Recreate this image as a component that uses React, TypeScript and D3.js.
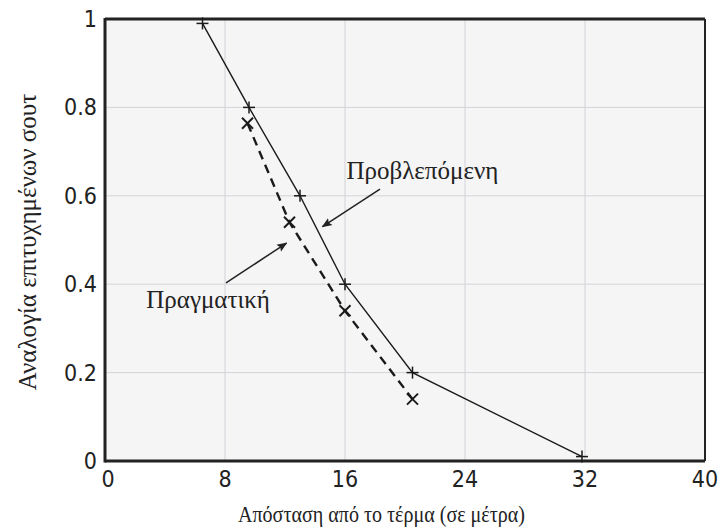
import React from 'react';
import * as d3 from 'd3';

// values
const predictedX = [6.5, 9.6, 13, 16, 20.5, 31.8];
const predictedY = [0.99, 0.8, 0.6, 0.4, 0.2, 0.01];
const actualX = [9.5, 12.3, 16, 20.5];
const actualY = [0.764, 0.54, 0.34, 0.14];
const xTicks = [0, 8, 16, 24, 32, 40];
const yTicks = [0, 0.2, 0.4, 0.6, 0.8, 1];

const xTitle = 'Απόσταση από το τέρμα (σε μέτρα)';
const yTitle = 'Αναλογία επιτυχημένων σουτ';
const predictedLabel = 'Προβλεπόμενη';
const actualLabel = 'Πραγματική';

const W = 720;
const H = 530;
const margin = { left: 105, right: 15, top: 19, bottom: 69 };

const serif = '"Liberation Serif", "DejaVu Serif", serif';
const narrow = '"Liberation Sans Narrow", "DejaVu Sans Condensed", "Liberation Sans", sans-serif';

export default function App() {
  const x = d3.scaleLinear().domain([0, 40]).range([margin.left, W - margin.right]);
  const y = d3.scaleLinear().domain([0, 1]).range([H - margin.bottom, margin.top]);

  const predicted = predictedX.map((v, i) => [v, predictedY[i]] as [number, number]);
  const actual = actualX.map((v, i) => [v, actualY[i]] as [number, number]);

  const line = d3.line<[number, number]>()
    .x(d => x(d[0]))
    .y(d => y(d[1]));

  const x0 = x(0);
  const x1 = x(40);
  const y0 = y(0);
  const y1 = y(1);

  // annotation arrows, in data units
  const predArrow = { from: [18.33, 0.615], to: [14.5, 0.53] };
  const actArrow = { from: [8.07, 0.403], to: [12.1, 0.493] };

  return (
    <svg width={W} height={H} style={{ position: 'absolute', left: 0, top: 0 }}>
      <defs>
        <marker id="arrow" viewBox="0 0 10 10" refX="9" refY="5"
          markerWidth="7" markerHeight="7" orient="auto">
          <path d="M0,1 L10,5 L0,9 L2,5 z" fill="#222" />
        </marker>
      </defs>
      <rect x={0} y={0} width={W} height={H} fill="#fff" />
      <rect x={x0} y={y1} width={x1 - x0} height={y0 - y1} fill="#f5f5f5" />

      {/* grid */}
      {xTicks.slice(1, -1).map(t => (
        <line key={'gx' + t} x1={x(t)} x2={x(t)} y1={y1} y2={y0} stroke="#d3d3da" strokeWidth={1} />
      ))}
      {yTicks.slice(1, -1).map(t => (
        <line key={'gy' + t} x1={x0} x2={x1} y1={y(t)} y2={y(t)} stroke="#d3d3da" strokeWidth={1} />
      ))}

      {/* frame */}
      <line x1={x0} x2={x0} y1={y1 - 1} y2={y0 + 1.5} stroke="#222" strokeWidth={3} />
      <line x1={x0} x2={x1} y1={y0} y2={y0} stroke="#222" strokeWidth={3} />
      <line x1={x0} x2={x1} y1={y1} y2={y1} stroke="#222" strokeWidth={3} />
      <line x1={x1} x2={x1} y1={y1} y2={y0} stroke="#222" strokeWidth={2} />

      {/* tick labels */}
      {xTicks.map(t => (
        <text key={'tx' + t} x={x(t) + (t === 0 ? 3 : 0)} y={y0 + 26} textAnchor="middle"
          fontFamily={narrow} fontSize={23} fill="#222">{t}</text>
      ))}
      {yTicks.map(t => (
        <text key={'ty' + t} x={x0 - 8} y={y(t) + 8} textAnchor="end"
          fontFamily={narrow} fontSize={23} fill="#222">{t}</text>
      ))}

      {/* series */}
      <path d={line(predicted) || ''} fill="none" stroke="#1a1a1a" strokeWidth={1.4} />
      <path d={line(actual) || ''} fill="none" stroke="#1a1a1a" strokeWidth={2.4} strokeDasharray="9,6" />
      {predicted.map((d, i) => (
        <g key={'p' + i} transform={`translate(${x(d[0])},${y(d[1])})`} stroke="#1a1a1a" strokeWidth={1.5}>
          <line x1={-6} x2={6} y1={0} y2={0} />
          <line x1={0} x2={0} y1={-6} y2={6} />
        </g>
      ))}
      {actual.map((d, i) => (
        <g key={'a' + i} transform={`translate(${x(d[0])},${y(d[1])})`} stroke="#1a1a1a" strokeWidth={2}>
          <line x1={-5.5} x2={5.5} y1={-5.5} y2={5.5} />
          <line x1={-5.5} x2={5.5} y1={5.5} y2={-5.5} />
        </g>
      ))}

      {/* annotations */}
      <line x1={x(predArrow.from[0])} y1={y(predArrow.from[1])} x2={x(predArrow.to[0])} y2={y(predArrow.to[1])}
        stroke="#222" strokeWidth={1.5} markerEnd="url(#arrow)" />
      <line x1={x(actArrow.from[0])} y1={y(actArrow.from[1])} x2={x(actArrow.to[0])} y2={y(actArrow.to[1])}
        stroke="#222" strokeWidth={1.5} markerEnd="url(#arrow)" />
      <text x={x(16.1)} y={y(0.639)} fontFamily={serif} fontSize={25} fill="#222">{predictedLabel}</text>
      <text x={x(2.75)} y={y(0.346)} fontFamily={serif} fontSize={25} fill="#222">{actualLabel}</text>

      {/* axis titles */}
      <text x={238} y={H - 8} textAnchor="start" fontFamily={serif} fontSize={23}
        textLength={287} lengthAdjust="spacingAndGlyphs" fill="#222">{xTitle}</text>
      <text transform={`translate(36,${(y0 + y1) / 2 + 2}) rotate(-90)`} textAnchor="middle"
        fontFamily={serif} fontSize={25} fill="#222">{yTitle}</text>
    </svg>
  );
}
